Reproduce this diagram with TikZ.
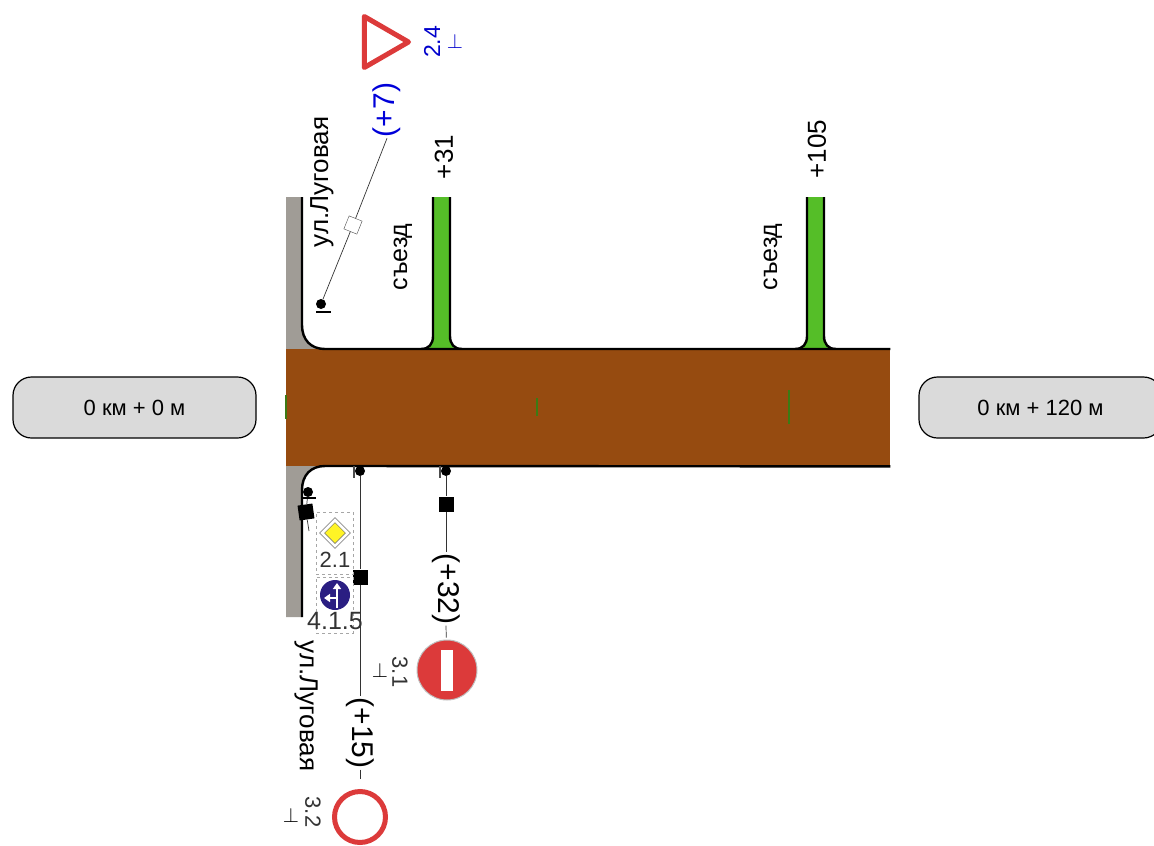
\documentclass[tikz,border=0pt]{standalone}
\usepackage{fontspec}
\setmainfont{Liberation Sans}
\definecolor{roadBrown}{HTML}{964B10}
\definecolor{sideGray}{HTML}{A09C96}
\definecolor{exitGreen}{HTML}{55BE28}
\definecolor{tickGreen}{HTML}{3C7A14}
\definecolor{signRed}{HTML}{DC3A3A}
\definecolor{signBlue}{HTML}{2A1E82}
\definecolor{kmGray}{HTML}{DADADA}
\usetikzlibrary{arrows.meta,positioning,shapes.geometric}
\tikzset{
    kmbox/.style={
        draw=black,
        fill=kmGray,
        rectangle,
        rounded corners=6.5mm,
        line width=1.2pt,
        minimum height=61pt,
        minimum width=243pt,
        font=\fontsize{22}{24}\selectfont
    },
    edgeline/.style={
        line width=2.4pt,
        color=black
    },
    post/.style={
        line width=0.7pt,
        color=black!80
    },
    dotmark/.style={
        circle,
        fill=black,
        inner sep=0pt,
        minimum size=10pt
    },
    mountmark/.style={
        rectangle,
        fill=black,
        inner sep=0pt,
        minimum size=15pt
    },
    offset/.style={
        font=\fontsize{30}{32}\selectfont,
        inner sep=1pt
    },
    roadtext/.style={
        font=\fontsize{26}{28}\selectfont,
        inner sep=0pt
    },
    signtext/.style={
        font=\fontsize{23}{25}\selectfont,
        color=black!80,
        inner sep=0pt
    },
    perptext/.style={
        font=\fontsize{20}{22}\selectfont,
        inner sep=0pt
    },
    holdbox/.style={
        draw=black!35,
        dashed,
        line width=0.5pt,
        minimum width=37pt,
        inner sep=0pt
    },
    redring/.style={
        circle,
        draw=signRed,
        line width=5pt,
        fill=white,
        inner sep=0pt,
        minimum size=51pt
    }
}

\begin{document}
\begin{tikzpicture}[x=1pt,y=-1pt]
    \useasboundingbox (0,0) rectangle (1154,846);

    % Side road
    \fill[sideGray] (286,197) -- (302,197) -- (302,325) .. controls (302,340) and (311,349) .. (325,349) -- (286,349) -- cycle;
    \fill[sideGray] (286,617) -- (302,617) -- (302,490) .. controls (302,475) and (311,466) .. (325,466) -- (286,466) -- cycle;

    % Exits
    \foreach \ex in {433,807}{
        \fill[exitGreen] (\ex,197) -- (\ex+17,197) -- (\ex+17,336) .. controls (\ex+17,344) and (\ex+21,349) .. (\ex+29,349)
            -- (\ex-12,349) .. controls (\ex-4,349) and (\ex,344) .. (\ex,336) -- cycle;
        \draw[edgeline] (\ex,197) -- (\ex,336) .. controls (\ex,344) and (\ex-4,349) .. (\ex-12,349);
        \draw[edgeline] (\ex+17,197) -- (\ex+17,336) .. controls (\ex+17,344) and (\ex+21,349) .. (\ex+29,349);
    }

    % Road
    \node[rectangle, fill=roadBrown, inner sep=0pt, minimum width=604pt, minimum height=117pt,
        anchor=north west] (road) at (286,349) {};
    \draw[edgeline] (302,197) -- (302,325) .. controls (302,340) and (311,349) .. (325,349) -- (road.north east);
    \draw[edgeline] (302,617) -- (302,490) .. controls (302,475) and (311,466) .. (325,466) -- (road.south east);
    \foreach \tk/\tl in {286/12,537/9,789/17}{
        \draw[tickGreen, line width=1.6pt] (\tk,407-\tl) -- (\tk,407+\tl);
    }

    % Kilometre marks
    \node[kmbox] (kmstart) at (134.5,407.5) {0 км + 0 м};
    \node[kmbox] (kmend) at (1040.5,407.5) {0 км + 120 м};

    % Road labels
    \node[roadtext, rotate=90] (lugovayaup) at (322,182) {ул.Луговая};
    \node[roadtext, rotate=-90] (lugovayadn) at (306,706) {ул.Луговая};
    \node[roadtext, rotate=90, font=\fontsize{25}{27}\selectfont] (exitone) at (403,257) {съезд};
    \node[roadtext, rotate=90, font=\fontsize{25}{27}\selectfont] (exittwo) at (773,257) {съезд};
    \node[roadtext, rotate=90] (plusone) at (444,157) {+31};
    \node[roadtext, rotate=90] (plustwo) at (817,149) {+105};

    % Sign 2.4
    \node[regular polygon, regular polygon sides=3, shape border rotate=-90, draw=signRed, fill=white,
        line width=5pt, line join=round, inner sep=0pt, minimum size=59pt] (signyield) at (379,42) {};
    \node[signtext, rotate=90, color=blue!80!black] (txtyield) at (432,42) {2.4};
    \node[perptext, color=blue!80!black] (perpyield) at (455,41) {$\perp$};
    \node[offset, rotate=90, color=blue!85!black] (offyield) at (387,110) {(+7)};
    \node[dotmark] (baseyield) at (321,304) {};
    \node[rectangle, draw=black!70, fill=white, rotate=-22, inner sep=0pt, minimum size=14pt] (markyield) at (353,225) {};
    \draw[post] (baseyield) -- (markyield);
    \draw[post] (markyield) -- (offyield.west);
    \draw[line width=1.5pt] (316,312) -- (331,312);

    % Sign 3.1
    \node[circle, fill=signRed, draw=black!25, line width=1pt, inner sep=0pt, minimum size=60pt] (signentry) at (447,670) {};
    \node[rectangle, fill=white, inner sep=0pt, minimum width=12pt, minimum height=41pt] (barentry) at (signentry.center) {};
    \node[signtext, rotate=-90, font=\fontsize{22}{24}\selectfont] (txtentry) at (400,672) {3.1};
    \node[perptext] (perpentry) at (380,670) {$\perp$};
    \node[offset, rotate=-90] (offentry) at (446,589) {(+32)};
    \node[dotmark] (baseentry) at (446,471) {};
    \node[mountmark] (markentry) at (446,504) {};
    \draw[post] (baseentry) -- (markentry);
    \draw[post] (markentry) -- (offentry.west);
    \draw[post, shorten >=2pt] (offentry.east) -- (signentry);
    \draw[line width=1.2pt, black!70] (440,466) -- (440,478);

    % Sign 3.2
    \node[redring] (signclosed) at (360,817) {};
    \node[signtext, rotate=-90, font=\fontsize{22}{24}\selectfont] (txtclosed) at (313,812) {3.2};
    \node[perptext] (perpclosed) at (291,815) {$\perp$};
    \node[offset, rotate=-90] (offclosed) at (360,733) {(+15)};
    \node[dotmark] (baseclosed) at (360,471) {};
    \node[mountmark] (markclosed) at (360,577) {};
    \draw[post] (baseclosed) -- (markclosed);
    \draw[post] (markclosed) -- (offclosed.west);
    \draw[post, shorten >=10pt] (offclosed.east) -- (signclosed);
    \draw[line width=1.2pt, black!70] (354,466) -- (354,478);

    % Signs 2.1 and 4.1.5
    \node[holdbox, minimum height=62pt] (holdmain) at (334.5,543) {};
    \node[holdbox, minimum height=56pt] (holdturn) at (334.5,605) {};
    \node[dotmark] (basemain) at (308,492) {};
    \node[mountmark, rotate=8] (markmain) at (306,512) {};
    \coordinate (tailmain) at (309,531);
    \draw[post] (basemain) -- (markmain);
    \draw[post] (markmain) -- (tailmain);
    \draw[line width=1.5pt] (301,498) -- (316,498);
    \node[diamond, draw=black!45, fill=white, line width=0.8pt, inner sep=0pt, minimum size=31pt] (signmain) at (335,533) {};
    \node[diamond, draw=black!60, fill=yellow!85!white, line width=0.5pt, inner sep=0pt, minimum size=21pt] (coremain) at (signmain.center) {};
    \node[signtext, font=\fontsize{22}{24}\selectfont] (txtmain) at (335,560) {2.1};
    \node[circle, fill=signBlue, inner sep=0pt, minimum size=30pt] (signturn) at (335,595) {};
    \draw[white, line width=2.5pt, -{Triangle[length=6pt,width=8pt]}, shift={(signturn.center)}] (2,13) -- (2,-12);
    \draw[white, line width=2.5pt, -{Triangle[length=6pt,width=8pt]}, shift={(signturn.center)}] (2,3) -- (-11,3);
    \node[signtext, font=\fontsize{25}{27}\selectfont] (txtturn) at (335,621) {4.1.5};
\end{tikzpicture}
\end{document}
